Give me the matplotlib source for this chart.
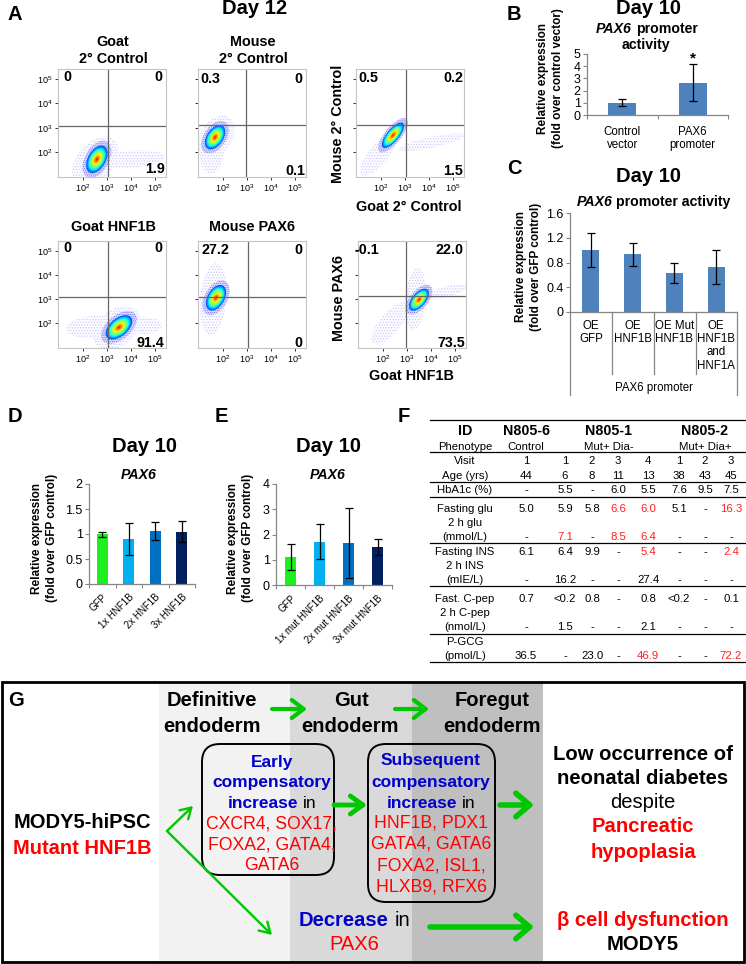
import matplotlib
matplotlib.use('Agg')
import matplotlib.pyplot as plt
from matplotlib.patches import Ellipse, FancyBboxPatch, Rectangle

plt.rcParams['font.family'] = ['Liberation Sans', 'DejaVu Sans']
plt.rcParams['mathtext.fontset'] = 'custom'
plt.rcParams['mathtext.rm'] = 'Liberation Sans'
plt.rcParams['mathtext.it'] = 'Liberation Sans:italic'
plt.rcParams['hatch.linewidth'] = 0.4

W, H = 746, 964

# bar panels
b_labels = ['Control\nvector', 'PAX6\npromoter']
b_values = [1.0, 2.65]
b_low = [0.7, 1.15]
b_high = [1.32, 4.2]

c_labels = ['OE\nGFP', 'OE\nHNF1B', 'OE Mut\nHNF1B', 'OE\nHNF1B\nand\nHNF1A']
c_values = [1.0, 0.93, 0.63, 0.72]
c_low = [0.73, 0.74, 0.47, 0.45]
c_high = [1.27, 1.12, 0.79, 1.0]

d_labels = ['GFP', '1x HNF1B', '2x HNF1B', '3x HNF1B']
d_values = [1.0, 0.9, 1.06, 1.05]
d_low = [0.94, 0.58, 0.88, 0.84]
d_high = [1.05, 1.22, 1.25, 1.26]

e_labels = ['GFP', '1x mut HNF1B', '2x mut HNF1B', '3x mut HNF1B']
e_values = [1.1, 1.72, 1.66, 1.5]
e_low = [0.58, 1.03, 0.27, 1.2]
e_high = [1.64, 2.4, 3.05, 1.83]

# flow panels: quadrant percentages UL, UR, LR
facs_quadrants = [
    ['0', '0', '1.9'], ['0.3', '0', '0.1'], ['0.5', '0.2', '1.5'],
    ['0', '0', '91.4'], ['27.2', '0', '0'], ['-0.1', '22.0', '73.5'],
]
# cloud read in decades: x, y, semi major, semi minor, angle
facs_core = [
    (2.58, 1.70, 0.62, 0.37, 60), (1.67, 2.61, 0.56, 0.34, 55), (2.50, 2.69, 0.65, 0.25, 50),
    (3.50, 1.83, 0.65, 0.37, 40), (1.71, 3.06, 0.58, 0.35, 60), (3.50, 2.98, 0.55, 0.28, 50),
]
facs_tails = [
    [(2.5, 1.6, 1.2, 0.75, 50), (4.0, 1.7, 1.4, 0.35, 5)],
    [(1.55, 2.1, 1.0, 0.5, 85), (1.7, 2.6, 1.0, 0.65, 55)],
    [(1.9, 1.9, 1.1, 0.4, 50), (4.1, 2.4, 1.4, 0.22, 12)],
    [(2.4, 1.85, 1.1, 0.45, 5), (4.6, 1.9, 0.7, 0.35, 0), (3.4, 1.8, 1.1, 0.75, 40)],
    [(1.6, 3.0, 1.5, 0.55, 85)],
    [(3.35, 3.0, 1.3, 0.42, 85), (2.3, 2.0, 1.1, 0.42, 50), (4.6, 3.3, 0.9, 0.22, 15)],
]
facs_ticks = [2, 3, 4, 5]

# table
table_cols = ['Visit', 'Age (yrs)', 'HbA1c (%)', 'Fasting glu', '2 h glu', '(mmol/L)', 'Fasting INS', '2 h INS',
              '(mIE/L)', 'Fast. C-pep', '2 h C-pep', '(nmol/L)', 'P-GCG', '(pmol/L)']
table_rows = [
    ['1', '1', '2', '3', '4', '1', '2', '3'],
    ['44', '6', '8', '11', '13', '38', '43', '45'],
    ['-', '5.5', '-', '6.0', '5.5', '7.6', '9.5', '7.5'],
    ['5.0', '5.9', '5.8', '6.6', '6.0', '5.1', '-', '16.3'],
    None,
    ['-', '7.1', '-', '8.5', '6.4', '-', '-', '-'],
    ['6.1', '6.4', '9.9', '-', '5.4', '-', '-', '2.4'],
    None,
    ['-', '16.2', '-', '-', '27.4', '-', '-', '-'],
    ['0.7', '<0.2', '0.8', '-', '0.8', '<0.2', '-', '0.1'],
    None,
    ['-', '1.5', '-', '-', '2.1', '-', '-', '-'],
    None,
    ['36.5', '-', '23.0', '-', '46.9', '-', '-', '72.2'],
]
table_red = [(3, 3), (3, 4), (3, 7), (5, 1), (5, 3), (5, 4), (6, 4), (6, 7), (13, 4), (13, 7)]

fig = plt.figure(figsize=(W / 100, H / 100), dpi=100)


def px_axes(x0, y0, x1, y1):
    return fig.add_axes([x0 / W, 1 - y1 / H, (x1 - x0) / W, (y1 - y0) / H])


def bar_panel(box, labels, values, low, high, colors, ylim, yticks, ylabels, width, tick_size=9):
    ax = px_axes(*box)
    x = list(range(len(values)))
    yerr = [[v - l for v, l in zip(values, low)], [h - v for v, h in zip(values, high)]]
    ax.bar(x, values, width=width, color=colors)
    ax.errorbar(x, values, yerr=yerr, fmt='none', ecolor='black', elinewidth=0.9, capsize=2.8, capthick=0.9)
    ax.set_xlim(-0.5, len(values) - 0.5)
    ax.set_ylim(*ylim)
    ax.set_yticks(yticks)
    ax.set_yticklabels(ylabels, fontsize=tick_size)
    ax.set_xticks(x)
    ax.set_xticks([i - 0.5 for i in range(len(values) + 1)], minor=True)
    ax.tick_params(axis='x', which='major', length=0)
    ax.tick_params(axis='x', which='minor', length=3, color='#868686', width=0.8)
    ax.tick_params(axis='y', length=3, color='#868686', width=0.8, pad=1.5)
    for s in ['top', 'right']:
        ax.spines[s].set_visible(False)
    for s in ['left', 'bottom']:
        ax.spines[s].set_color('#868686')
        ax.spines[s].set_linewidth(0.9)
    ax.patch.set_alpha(0)
    return ax


def facs_panel(i, box, gate_x, gate_y, ylabels):
    ax = px_axes(*box)
    ax.set_xlim(0.96, 5.46)
    ax.set_ylim(0.97, 5.42)
    for t in facs_tails[i]:
        ax.add_patch(Ellipse(t[:2], 2 * t[2], 2 * t[3], angle=t[4], facecolor='#fafaff', hatch='......',
                             edgecolor='#c0c0ff', linewidth=0))
    cx, cy, major, minor, angle = facs_core[i]
    # speckled blue rim round the dense part
    ax.add_patch(Ellipse((cx, cy), 2.7 * major, 2.7 * minor, angle=angle, facecolor='#d4d4ff', hatch='........',
                         edgecolor='#6a6af5', linewidth=0))
    jet = matplotlib.colormaps['jet']
    n = 14
    for k in range(n):
        s = 1 - k / n
        ax.add_patch(Ellipse((cx, cy), 2 * major * s, 2 * minor * s, angle=angle,
                             color=jet(0.2 + 0.68 * k / (n - 1)), linewidth=0))
    ax.axvline(gate_x, color='#666666', lw=0.9)
    ax.axhline(gate_y, color='#666666', lw=0.9)
    ax.set_xticks(facs_ticks)
    ax.set_xticklabels(['$\\mathregular{10^%d}$' % t for t in facs_ticks], fontsize=6.5)
    ax.set_yticks(facs_ticks)
    ax.set_yticklabels(['$\\mathregular{10^%d}$' % t for t in facs_ticks] if ylabels else [], fontsize=6.5)
    ax.tick_params(length=2.5, width=0.7, pad=1.5, color='#333333')
    for s in ax.spines.values():
        s.set_color('#c4c4c4')
        s.set_linewidth(0.8)
    return ax


# flow cytometry
facs_boxes = [(58, 69, 166, 177), (198, 69, 306, 177), (356, 69, 464, 177),
              (58, 241, 166, 348), (198, 241, 306, 348), (358, 241, 466, 348)]
gates = [(3.04, 3.06), (2.96, 3.10), (3.04, 3.10), (3.04, 3.09), (3.04, 3.09), (2.96, 3.13)]
for i, box in enumerate(facs_boxes):
    facs_panel(i, box, gates[i][0], gates[i][1], i in (0, 3))

blue = '#4f81bd'
bar_panel((587, 54, 728, 115), b_labels, b_values, b_low, b_high, blue, (0, 5),
          [0, 1, 2, 3, 4, 5], ['0', '1', '2', '3', '4', '5'], 0.4)
ax_b = fig.axes[-1]
ax_b.set_xticklabels(b_labels, fontsize=8.3, linespacing=1.15)
ax_b.tick_params(axis='x', which='major', pad=8)

bar_panel((570, 213, 737, 312), c_labels, c_values, c_low, c_high, blue, (0, 1.6),
          [0, 0.4, 0.8, 1.2, 1.6], ['0', '0.4', '0.8', '1.2', '1.6'], 0.41)
ax_c = fig.axes[-1]
ax_c.set_xticklabels(c_labels, fontsize=8.3, linespacing=1.12)
ax_c.tick_params(axis='x', which='major', pad=6)
ax_c.tick_params(axis='x', which='minor', length=0)

d_colors = ['#1ef01e', '#00b0f0', '#0070c0', '#002060']
bar_panel((89, 484, 195, 584), d_labels, d_values, d_low, d_high, d_colors, (0, 2),
          [0, 0.5, 1, 1.5, 2], ['0', '0.5', '1', '1.5', '2'], 0.42)
ax_d = fig.axes[-1]
ax_d.set_xticklabels(d_labels, fontsize=7, rotation=45, ha='right', rotation_mode='anchor')
ax_d.tick_params(axis='x', which='major', pad=6)

bar_panel((276, 484, 392, 585), e_labels, e_values, e_low, e_high, d_colors, (0, 4),
          [0, 1, 2, 3, 4], ['0', '1', '2', '3', '4'], 0.41)
ax_e = fig.axes[-1]
ax_e.set_xticklabels(e_labels, fontsize=7, rotation=45, ha='right', rotation_mode='anchor')
ax_e.tick_params(axis='x', which='major', pad=6)

# everything placed by hand goes on a pixel overlay
ov = fig.add_axes([0, 0, 1, 1], zorder=5)
ov.set_xlim(0, W)
ov.set_ylim(H, 0)
ov.axis('off')
ov.patch.set_alpha(0)


def txt(x, y, s, size=8, bold=False, color='black', ha='center', rotation=0, style='normal'):
    ov.text(x, y, s, fontsize=size, fontweight='bold' if bold else 'normal', color=color, ha=ha,
            va='center', rotation=rotation, fontstyle=style)


for s, x, y in [('A', 8, 15), ('B', 507, 14), ('C', 507, 168), ('D', 8, 417), ('E', 215, 417), ('F', 398, 417)]:
    txt(x, y, s, 14.5, True, ha='left')

txt(255, 8, 'Day 12', 14.5, True)
txt(648, 8, 'Day 10', 14.5, True)
txt(648, 177, 'Day 10', 14.5, True)
txt(145, 447, 'Day 10', 14.5, True)
txt(328, 447, 'Day 10', 14.5, True)

txt(632, 29, 'PAX6', 10.2, True, ha='right', style='italic')
txt(636, 29, 'promoter', 10.2, True, ha='left')
txt(646, 45, 'activity', 10.2, True)
txt(613, 202, 'PAX6', 10.2, True, ha='right', style='italic')
txt(616, 202, 'promoter activity', 10.2, True, ha='left')
txt(139, 475, 'PAX6', 10.2, True, style='italic')
txt(328, 475, 'PAX6', 10.2, True, style='italic')
txt(693, 58, '*', 11, True)

for x, y, l1, l2 in [(543, 78, 'Relative expression', '(fold over control vector)'),
                     (521, 267, 'Relative expression', '(fold over GFP control)'),
                     (37, 538, 'Relative expression', '(fold over GFP control)'),
                     (233, 538, 'Relative expression', '(fold over GFP control)')]:
    txt(x, y, l1, 8.5, True, rotation=90)
    txt(x + 15.5, y, l2, 8.5, True, rotation=90)

# panel C grouping lines
for x, y1 in [(570, 395), (612, 374), (654, 374), (696, 374), (737, 395)]:
    ov.plot([x, x], [312, y1], color='#868686', lw=0.9)
txt(654, 388, 'PAX6 promoter', 8.3)

# panel A captions
for x, y, s in [(113, 42, 'Goat'), (113, 59, '2° Control'), (253, 42, 'Mouse'), (253, 59, '2° Control'),
                (113, 227, 'Goat HNF1B'), (252, 227, 'Mouse PAX6'), (409, 207, 'Goat 2° Control'),
                (411, 376, 'Goat HNF1B')]:
    txt(x, y, s, 10.4, True)
txt(338, 124, 'Mouse 2° Control', 10.4, True, rotation=90)
txt(339, 298, 'Mouse PAX6', 10.4, True, rotation=90)

quad_pos = [[(67, 77), (158, 77), (155, 169)], [(210, 79), (298, 79), (295, 171)], [(368, 78), (453, 78), (453, 171)],
            [(67, 248), (158, 248), (150, 343)], [(215, 250), (298, 250), (298, 343)], [(367, 250), (450, 250), (451, 343)]]
for vals, pos in zip(facs_quadrants, quad_pos):
    for v, p in zip(vals, pos):
        txt(p[0], p[1], v, 10.3, True)

# table F
col_x = [526, 565, 592, 618, 648, 679, 705, 731]
row_y = [461, 476, 490, 509, 523, 537, 552, 566, 580, 599, 613, 627, 642, 656]
for y in [420, 452, 482, 497, 543, 586, 634, 662]:
    ov.plot([430, 745], [y, y], color='black', lw=0.9)
txt(465, 431, 'ID', 10.3, True)
txt(526, 431, 'N805-6', 10.3, True)
txt(609, 431, 'N805-1', 10.3, True)
txt(705, 431, 'N805-2', 10.3, True)
txt(465, 447, 'Phenotype', 8.2)
txt(526, 447, 'Control', 8.2)
txt(609, 447, 'Mut+ Dia-', 8.2)
txt(705, 447, 'Mut+ Dia+', 8.2)
for r, (name, y) in enumerate(zip(table_cols, row_y)):
    txt(465, y, name, 8.2)
    if table_rows[r] is None:
        continue
    for c, (v, x) in enumerate(zip(table_rows[r], col_x)):
        txt(x, y, v, 8.2, color='#ff2020' if (r, c) in table_red else 'black')

# panel G
for x0, x1, col in [(159, 290, '#f2f2f2'), (290, 412, '#d9d9d9'), (412, 543, '#bfbfbf')]:
    ov.add_patch(Rectangle((x0, 682), x1 - x0, 280, color=col, linewidth=0, zorder=0))
ov.add_patch(Rectangle((2, 682), 741.5, 280, fill=False, edgecolor='black', linewidth=2, zorder=3))
for x0, y0, x1, y1 in [(202, 744, 334, 875), (368, 744, 495, 902)]:
    ov.add_patch(FancyBboxPatch((x0 + 18, y0 + 18), x1 - x0 - 36, y1 - y0 - 36, boxstyle='round,pad=18,rounding_size=18',
                                fill=False, edgecolor='black', linewidth=1.4, zorder=3))


def arrow(x0, y0, x1, y1, lw, hl, hw):
    ov.annotate('', xy=(x1, y1), xytext=(x0, y0),
                arrowprops=dict(arrowstyle='->,head_length=%g,head_width=%g' % (hl, hw), color='#00c800', lw=lw,
                                shrinkA=0, shrinkB=0, mutation_scale=1))


arrow(272, 709, 307, 709, 3, 8.5, 6.5)
arrow(395, 709, 429, 709, 3, 8.5, 6.5)
arrow(167, 831, 193, 806, 1.7, 7.5, 4.5)
arrow(167, 831, 272, 935, 1.7, 7.5, 4.5)
arrow(334, 805, 367, 805, 3.5, 9, 6.5)
arrow(500, 805, 534, 805, 4, 10, 8.5)
arrow(430, 927, 534, 927, 4, 10, 8.5)

txt(8, 700, 'G', 14.5, True, ha='left')
for x, y, s in [(212, 701, 'Definitive'), (212, 726, 'endoderm'), (351, 701, 'Gut'), (350, 726, 'endoderm'),
                (492, 701, 'Foregut'), (492, 726, 'endoderm')]:
    txt(x, y, s, 14.5, True)
txt(82, 823, 'MODY5-hiPSC', 14.5, True)
txt(82, 848, 'Mutant HNF1B', 14.5, True, color='#ff0000')

navy = '#0000cc'
red = '#ff0000'
txt(272, 762, 'Early', 12.5, True, navy)
txt(272, 783, 'compensatory', 12.5, True, navy)
txt(298, 804, 'increase', 12.5, True, navy, ha='right')
txt(303, 804, 'in', 12.5, ha='left')
for y, s in [(824, 'CXCR4, SOX17,'), (845, 'FOXA2, GATA4,'), (866, 'GATA6')]:
    txt(272, y, s, 12.7, color=red)
txt(431, 761, 'Subsequent', 12.5, True, navy)
txt(431, 782, 'compensatory', 12.5, True, navy)
txt(457, 803, 'increase', 12.5, True, navy, ha='right')
txt(462, 803, 'in', 12.5, ha='left')
for y, s in [(823, 'HNF1B, PDX1'), (844, 'GATA4, GATA6'), (866, 'FOXA2, ISL1,'), (887, 'HLXB9, RFX6')]:
    txt(431, y, s, 12.7, color=red)
txt(388, 921, 'Decrease', 14.5, True, navy, ha='right')
txt(395, 921, 'in', 14.5, ha='left')
txt(354, 945, 'PAX6', 14.5, color=red)

for y, s, bold, col in [(754, 'Low occurrence of', True, 'black'), (778, 'neonatal diabetes', True, 'black'),
                        (803, 'despite', False, 'black'), (827, 'Pancreatic', True, red), (852, 'hypoplasia', True, red),
                        (921, 'β cell dysfunction', True, red), (945, 'MODY5', True, 'black')]:
    txt(643, y, s, 14.6, bold, col)

fig.savefig('out.png', dpi=100)
